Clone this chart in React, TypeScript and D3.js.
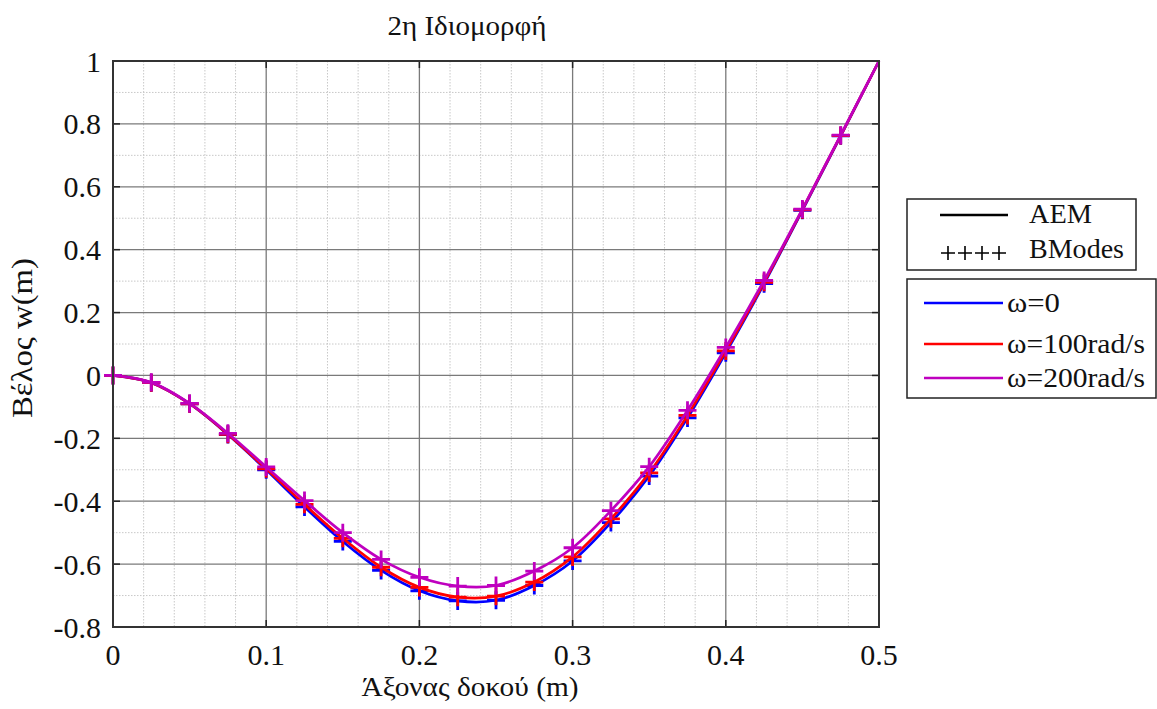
import React from "react";
import * as d3 from "d3";

const xs = [0, 0.025, 0.05, 0.075, 0.1, 0.125, 0.15, 0.175, 0.2, 0.225, 0.25, 0.275, 0.3, 0.325, 0.35, 0.375, 0.4, 0.425, 0.45, 0.475, 0.5];
const w0 = [0, -0.023, -0.09, -0.188, -0.3, -0.418, -0.528, -0.62, -0.685, -0.717, -0.715, -0.668, -0.59, -0.468, -0.32, -0.135, 0.072, 0.292, 0.525, 0.762, 1.0];
const w100 = [0, -0.023, -0.09, -0.187, -0.297, -0.41, -0.518, -0.61, -0.674, -0.705, -0.702, -0.657, -0.577, -0.456, -0.31, -0.127, 0.078, 0.296, 0.527, 0.763, 1.0];
const w200 = [0, -0.022, -0.089, -0.184, -0.291, -0.398, -0.5, -0.585, -0.642, -0.67, -0.668, -0.622, -0.548, -0.43, -0.29, -0.111, 0.089, 0.302, 0.529, 0.764, 1.0];

const seriesNames = ["ω=0", "ω=100rad/s", "ω=200rad/s"];
const seriesColors = ["#0000ff", "#ff0000", "#bf00bf"];
const seriesData = [w0, w100, w200];
const methodNames = ["AEM", "BModes"];

const xTicks = [0, 0.1, 0.2, 0.3, 0.4, 0.5];
const yTicks = [-0.8, -0.6, -0.4, -0.2, 0, 0.2, 0.4, 0.6, 0.8, 1];

const title = "2η Ιδιομορφή";
const xLabel = "Άξονας δοκού (m)";
const yLabel = "Βέλος w(m)";

const FONT = "Liberation Serif, DejaVu Serif, Noto Serif, Times New Roman, serif";

function T(props: any) {
  const { children, len, ...rest } = props;
  const extra = len ? { textLength: len, lengthAdjust: "spacingAndGlyphs" } : {};
  return (
    <text {...rest} {...extra} fontFamily={FONT} fill="#111">
      {children}
    </text>
  );
}

export default function App() {
  const W = 1157, H = 709;
  const L = 113, R = 879, Tp = 61, B = 627;
  const x = d3.scaleLinear().domain([0, 0.5]).range([L, R]);
  const y = d3.scaleLinear().domain([-0.8, 1]).range([B, Tp]);
  const minorX = d3.range(0, 0.5001, 0.02).filter((v) => Math.abs(v * 10 - Math.round(v * 10)) > 1e-6);
  const minorY = d3.range(-0.8, 1.0001, 0.1).filter((v) => Math.abs(v * 5 - Math.round(v * 5)) > 1e-6);
  const line = d3.line<number>().x((_, i) => x(xs[i])).y((d) => y(d)).curve(d3.curveCatmullRom.alpha(0.5));
  const markerIdx = xs.map((_, i) => i).filter((i) => xs[i] < 0.49);
  const ms = 9;
  const plus = (cx: number, cy: number, s: number) => `M${cx - s},${cy}H${cx + s}M${cx},${cy - s}V${cy + s}`;
  const legY = [303, 344, 378];
  const legLen = [53, 138, 138];

  return (
    <svg width={W} height={H} style={{ position: "absolute", left: 0, top: 0, background: "#fff" }}>
      <rect x={0} y={0} width={W} height={H} fill="#fff" />
      {minorX.map((v, i) => (
        <line key={"mx" + i} x1={x(v)} x2={x(v)} y1={Tp} y2={B} stroke="#c8c8c8" strokeWidth={1} strokeDasharray="1.5,1.5" />
      ))}
      {minorY.map((v, i) => (
        <line key={"my" + i} y1={y(v)} y2={y(v)} x1={L} x2={R} stroke="#c8c8c8" strokeWidth={1} strokeDasharray="1.5,1.5" />
      ))}
      {xTicks.map((v, i) => (
        <line key={"gx" + i} x1={x(v)} x2={x(v)} y1={Tp} y2={B} stroke="#7a7a7a" strokeWidth={1.3} />
      ))}
      {yTicks.map((v, i) => (
        <line key={"gy" + i} y1={y(v)} y2={y(v)} x1={L} x2={R} stroke="#7a7a7a" strokeWidth={1.3} />
      ))}
      {xTicks.map((v, i) => (
        <g key={"tx" + i}>
          <line x1={x(v)} x2={x(v)} y1={B} y2={B - 7} stroke="#222" strokeWidth={1.5} />
          <line x1={x(v)} x2={x(v)} y1={Tp} y2={Tp + 7} stroke="#222" strokeWidth={1.5} />
          <T x={x(v)} y={665} fontSize={30} textAnchor="middle">{String(v)}</T>
        </g>
      ))}
      {yTicks.map((v, i) => (
        <g key={"ty" + i}>
          <line x1={L} x2={L + 7} y1={y(v)} y2={y(v)} stroke="#222" strokeWidth={1.5} />
          <line x1={R} x2={R - 7} y1={y(v)} y2={y(v)} stroke="#222" strokeWidth={1.5} />
          <T x={101} y={y(v) + 10.5} fontSize={30} textAnchor="end">{String(v)}</T>
        </g>
      ))}
      {seriesData.map((d, si) => (
        <g key={"s" + si}>
          <path d={line(d) || ""} fill="none" stroke={seriesColors[si]} strokeWidth={2.7} />
          <path d={markerIdx.map((i) => plus(x(xs[i]), y(d[i]), ms)).join("")} fill="none" stroke={seriesColors[si]} strokeWidth={2.8} />
        </g>
      ))}
      <rect x={L} y={Tp} width={R - L} height={B - Tp} fill="none" stroke="#333" strokeWidth={2} />
      <T x={467} y={35} fontSize={28} textAnchor="middle" len={159}>{title}</T>
      <T x={470} y={696} fontSize={28} textAnchor="middle" len={217}>{xLabel}</T>
      <T transform="translate(32,338) rotate(-90)" fontSize={30} textAnchor="middle" len={160}>{yLabel}</T>

      <rect x={907} y={199} width={229} height={71} fill="#fff" stroke="#222" strokeWidth={1.5} />
      <line x1={940} x2={1008} y1={215} y2={215} stroke="#000" strokeWidth={2.6} />
      <T x={1029} y={223} fontSize={27} len={63}>{methodNames[0]}</T>
      <path d={[0, 1, 2, 3].map((k) => plus(948 + k * 17, 253, 7)).join("")} fill="none" stroke="#000" strokeWidth={1.6} />
      <T x={1029} y={258} fontSize={27} len={95}>{methodNames[1]}</T>

      <rect x={907} y={279} width={249} height={119} fill="#fff" stroke="#222" strokeWidth={1.5} />
      {seriesNames.map((n, i) => (
        <g key={"lg" + i}>
          <line x1={924} x2={1003} y1={legY[i]} y2={legY[i]} stroke={seriesColors[i]} strokeWidth={2.6} />
          <T x={1007} y={legY[i] + 9} fontSize={27} len={legLen[i]}>{n}</T>
        </g>
      ))}
    </svg>
  );
}
